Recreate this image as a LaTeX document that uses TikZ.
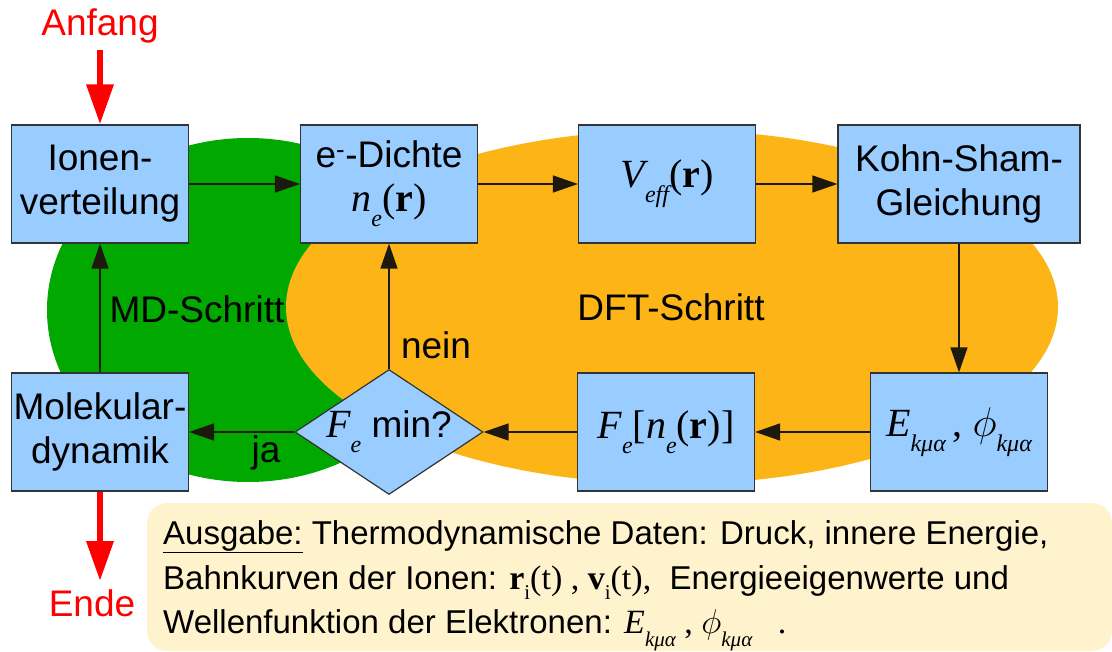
\documentclass[tikz,border=0pt]{standalone}
\usepackage{graphicx}
\usepackage{fontspec}
\setmainfont{Liberation Sans}
\newfontfamily\tnr{Liberation Serif}
\usetikzlibrary{shapes.geometric,arrows.meta}
\definecolor{boxblue}{RGB}{153,204,255}
\definecolor{mdgreen}{RGB}{0,168,0}
\definecolor{dftorange}{RGB}{253,180,23}
\definecolor{outcream}{RGB}{255,243,206}
\definecolor{linecol}{RGB}{30,25,15}
\newcommand\bigf{\fontsize{37}{44}\selectfont}
\newcommand\outf{\fontsize{33}{40}\selectfont}
% box math
\newcommand\tmi[1]{{\tnr\itshape\fontsize{40}{44}\selectfont #1}}
\newcommand\tmr[1]{{\tnr\fontsize{40}{44}\selectfont #1}}
\newcommand\tphi{{\fontsize{20}{22}\selectfont\scalebox{2}{$\phi$}}}
\newcommand\bsub[1]{\raisebox{-15pt}{\tnr\itshape\fontsize{24}{24}\selectfont #1}}
% output math
\newcommand\omi[1]{{\tnr\itshape\fontsize{34}{40}\selectfont #1}}
\newcommand\omr[1]{{\tnr\fontsize{34}{40}\selectfont #1}}
\newcommand\omb[1]{{\tnr\bfseries\fontsize{34}{40}\selectfont #1}}
\newcommand\ophi{{\fontsize{17}{20}\selectfont\scalebox{2}{$\phi$}}}
\newcommand\osub[1]{\raisebox{-13pt}{\tnr\itshape\fontsize{21}{21}\selectfont #1}}
\newcommand\osubr[1]{\raisebox{-10pt}{\tnr\fontsize{21}{21}\selectfont #1}}
\tikzset{
  flowbox/.style={draw=black!80, fill=boxblue, line width=1.2pt, minimum width=177pt,
    minimum height=118pt, inner sep=0pt, align=center, font=\bigf},
  conn/.style={draw=linecol, line width=1.3pt, -{Triangle[length=25pt,width=17pt]}},
  redarrow/.style={draw=red, line width=6.5pt, -{Triangle[length=40pt,width=26pt]}},
  lbl/.style={font=\bigf, inner sep=0pt, anchor=base},
  outline/.style={font=\outf, inner sep=0pt, anchor=base west},
}
\begin{document}
\begin{tikzpicture}[x=1pt,y=-1pt]
\useasboundingbox (0,0) rectangle (1112,652);
% background regions
\fill[mdgreen] (248,310) ellipse [x radius=201pt, y radius=172pt];
\fill[dftorange] (672,307) ellipse [x radius=386pt, y radius=177pt];
\fill[outcream, rounded corners=20pt] (147,503) rectangle (1112,651);

% boxes
\node[flowbox] (ion) at (100,184) {Ionen-\\verteilung};
\node[flowbox] (dichte) at (389,184) {e\textsuperscript{-}-Dichte\\\tmi{n}\bsub{e}\tmr{(\textbf{r})}};
\node[flowbox] (veff) at (667,184) {\tmi{V}\bsub{eff}\tmr{(\textbf{r})}};
\node[flowbox, minimum width=242pt] (ks) at (959,184) {Kohn-Sham-\\Gleichung};
\node[flowbox] (mol) at (100,432) {Molekular-\\dynamik};
\node[flowbox] (fe) at (666,432) {\tmi{F}\bsub{e}\tmr{[}\tmi{n}\bsub{e}\tmr{(\textbf{r})]}};
\node[flowbox] (ek) at (959,432) {\tmi{E}\bsub{kμα}\tmr{\,, }\tphi\bsub{kμα}};
\node[diamond, draw=black!80, fill=boxblue, line width=1.2pt, minimum width=188pt,
      minimum height=125pt, inner sep=0pt] (dia) at (389,432) {};
\node[font=\bigf, inner sep=0pt] (diatext) at (389,432) {\tmi{F}\bsub{e} min?};

% labels
\node[lbl, text=red] (anfang) at (100,36) {Anfang};
\node[lbl, text=red] (ende) at (92,616) {Ende};
\node[lbl] (mdlbl) at (197,323) {MD-Schritt};
\node[lbl] (dftlbl) at (671,321) {DFT-Schritt};
\node[lbl] (nein) at (436,359) {nein};
\node[lbl] (ja) at (266,463) {ja};

% connectors
\draw[conn] (ion.east) -- (dichte.west);
\draw[conn] (dichte.east) -- (veff.west);
\draw[conn] (veff.east) -- (ks.west);
\draw[conn] (ks.south) -- (ek.north);
\draw[conn] (ek.west) -- (fe.east);
\draw[conn] (fe.west) -- (dia.east);
\draw[conn] (dia.north) -- (dichte.south);
\draw[conn] (dia.west) -- (mol.east);
\draw[conn] (mol.north) -- (ion.south);

% start / end
\coordinate (a0) at (100,50);
\coordinate (e0) at (100,581);
\draw[redarrow] (a0) -- (ion.north);
\draw[redarrow] (mol.south) -- (e0);

% output text
\node[outline] (out1) at (163,544) {\underline{Ausgabe:} Thermodynamische Daten: Druck, innere Energie,};
\node[outline] (out2) at (163,589) {Bahnkurven der Ionen: \omb{r}\osubr{i}\omr{(t) , }\omb{v}\osubr{i}\omr{(t),}\ \ Energieeigenwerte und};
\node[outline] (out3) at (163,633) {Wellenfunktion der Elektronen: \omi{E}\osub{kμα}\omr{ , }\ophi\osub{kμα}\omr{\ \ \ .}};
\end{tikzpicture}
\end{document}
